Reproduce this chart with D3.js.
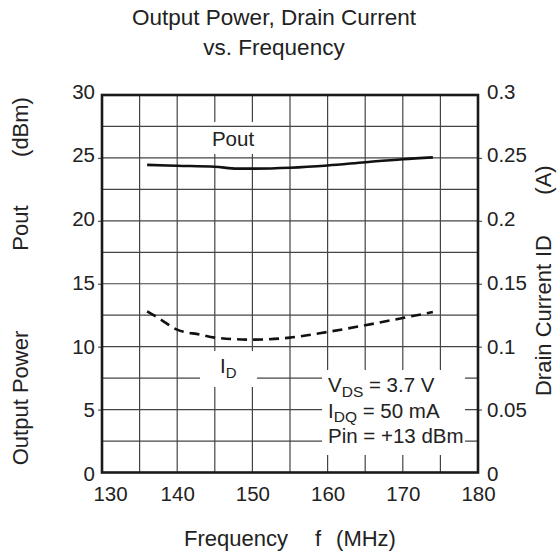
<!DOCTYPE html>
<html><head><meta charset="utf-8">
<script src="https://cdn.jsdelivr.net/npm/d3@7/dist/d3.min.js"></script>
<style>
html,body{margin:0;padding:0;background:#fff;}
text{font-family:"Liberation Sans",Arial,Helvetica,sans-serif;fill:#222;}
</style></head>
<body><svg id="chart" width="557" height="557"></svg>
<script>
// ---- data ----
const freqTicks = [130, 140, 150, 160, 170, 180];
const poutTicks = [0, 5, 10, 15, 20, 25, 30];
const idTicks = [0, 0.05, 0.1, 0.15, 0.2, 0.25, 0.3];
const idTickLabels = ["0", "0.05", "0.1", "0.15", "0.2", "0.25", "0.3"];
const poutFreq = [136, 140, 145, 148, 150, 155, 160, 165, 170, 174];
const poutValues = [24.45, 24.38, 24.3, 24.15, 24.15, 24.22, 24.4, 24.66, 24.9, 25.04];
const idFreq = [136, 137.7, 140, 143, 145, 150, 155, 160, 165, 170, 174];
const idValues = [0.128, 0.122, 0.1135, 0.1096, 0.1072, 0.1056, 0.1072, 0.1117, 0.117, 0.1228, 0.1275];
const titleLines = ["Output Power, Drain Current", "vs. Frequency"];
const xTitleParts = ["Frequency", "f", "(MHz)"];
const yLeftTitleParts = ["Output Power", "Pout", "(dBm)"];
const yRightTitleParts = ["Drain Current", "ID", "(A)"];

// ---- layout ----
const L = 102, R = 478, T = 95, B = 472.5;
const svg = d3.select("#chart");
const x = d3.scaleLinear().domain([130, 180]).range([L, R]);
const y = d3.scaleLinear().domain([0, 30]).range([B, T]);
const yR = d3.scaleLinear().domain([0, 0.3]).range([B, T]);
const yLab = d3.scaleLinear().domain([0, 30]).range([474, 91.7]);
const yLabR = d3.scaleLinear().domain([0, 0.3]).range([474, 91.7]);

const gridCol = "#444";
const vGrid = d3.range(135, 180, 5);
const hGrid = d3.range(2.5, 30, 2.5);
svg.append("g").selectAll("line").data(vGrid).join("line")
  .attr("x1", d => x(d)).attr("x2", d => x(d)).attr("y1", T).attr("y2", B)
  .attr("stroke", gridCol).attr("stroke-width", 1.2);
// Pout label background (cuts vertical lines)
svg.append("rect").attr("x", 207).attr("y", 122).attr("width", 52).attr("height", 32).attr("fill", "#fff");
svg.append("g").selectAll("line").data(hGrid).join("line")
  .attr("x1", L).attr("x2", R).attr("y1", d => y(d)).attr("y2", d => y(d))
  .attr("stroke", gridCol).attr("stroke-width", 1.2);
svg.append("rect").attr("x", 200).attr("y", 351).attr("width", 57).attr("height", 36).attr("fill", "#fff");
svg.append("rect").attr("x", 322).attr("y", 370).attr("width", 143).attr("height", 85).attr("fill", "#fff");

// outward tick marks
svg.append("g").attr("transform", `translate(${L},0)`)
  .call(d3.axisLeft(y).tickValues(poutTicks.slice(1, -1)).tickSize(4).tickFormat(""))
  .call(g => g.select(".domain").remove())
  .call(g => g.selectAll("line").attr("stroke", "#555").attr("stroke-width", 1.2));
svg.append("g").attr("transform", `translate(${R},0)`)
  .call(d3.axisRight(yR).tickValues(idTicks.slice(1, -1)).tickSize(4).tickFormat(""))
  .call(g => g.select(".domain").remove())
  .call(g => g.selectAll("line").attr("stroke", "#555").attr("stroke-width", 1.2));

// frame
svg.append("rect").attr("x", L).attr("y", T).attr("width", R - L).attr("height", B - T)
  .attr("fill", "none").attr("stroke", "#1a1a1a").attr("stroke-width", 2.6);

// curves
const linePout = d3.line().x((d, i) => x(poutFreq[i])).y(d => y(d)).curve(d3.curveMonotoneX);
svg.append("path").attr("d", linePout(poutValues)).attr("fill", "none")
  .attr("stroke", "#111").attr("stroke-width", 2.6);
const lineId = d3.line().x((d, i) => x(idFreq[i])).y(d => yR(d)).curve(d3.curveMonotoneX);
svg.append("path").attr("d", lineId(idValues)).attr("fill", "none")
  .attr("stroke", "#111").attr("stroke-width", 2.6).attr("stroke-dasharray", "10,6");

// axis tick labels
const fs = 20.5;
const axL = svg.append("g").attr("transform", "translate(95,0)")
  .call(d3.axisLeft(yLab).tickValues(poutTicks).tickSize(0).tickPadding(0).tickFormat(d3.format("d")));
axL.select(".domain").remove();
axL.selectAll("text").attr("font-size", fs).attr("font-family", null).attr("fill", "#222");
const axR = svg.append("g").attr("transform", "translate(487,0)")
  .call(d3.axisRight(yLabR).tickValues(idTicks).tickSize(0).tickPadding(0).tickFormat((d, i) => idTickLabels[i]));
axR.select(".domain").remove();
axR.selectAll("text").attr("font-size", fs).attr("font-family", null).attr("fill", "#222");
const axB = svg.append("g").attr("transform", `translate(0,${B})`)
  .call(d3.axisBottom(x).tickValues(freqTicks).tickSize(0).tickPadding(14).tickFormat(d3.format("d")));
axB.select(".domain").remove();
axB.selectAll("text").attr("font-size", fs).attr("font-family", null).attr("fill", "#222")
  .attr("dx", d => d === 130 ? 8 : 0);

// titles
svg.append("g").selectAll("text").data(titleLines).join("text")
  .attr("x", 274).attr("y", (d, i) => 25 + i * 30).attr("text-anchor", "middle")
  .attr("font-size", 22.5).text(d => d);
const xtPos = [236, 318, 366];
svg.append("g").selectAll("text").data(xTitleParts).join("text")
  .attr("x", (d, i) => xtPos[i]).attr("y", 546).attr("text-anchor", "middle").attr("font-size", 22).text(d => d);
const yltPos = [398, 228, 127];
svg.append("g").selectAll("text").data(yLeftTitleParts).join("text")
  .attr("transform", (d, i) => `translate(28,${yltPos[i]}) rotate(-90)`).attr("text-anchor", "middle")
  .attr("font-size", 22).text(d => d);
const yrtPos = [330, 246, 180];
svg.append("g").selectAll("text").data(yRightTitleParts).join("text")
  .attr("transform", (d, i) => `translate(551,${yrtPos[i]}) rotate(-90)`).attr("text-anchor", "middle")
  .attr("font-size", 22).text(d => d);

// in-plot labels
svg.append("text").attr("x", 233).attr("y", 146).attr("text-anchor", "middle").attr("font-size", 20.5).text("Pout");
const idl = svg.append("text").attr("x", 220).attr("y", 373).attr("font-size", 20.5);
idl.append("tspan").text("I");
idl.append("tspan").attr("dy", 5).attr("font-size", 15).text("D");

const ann = svg.append("g").attr("font-size", 20.5);
const a1 = ann.append("text").attr("x", 328).attr("y", 392);
a1.append("tspan").text("V");
a1.append("tspan").attr("dy", 4.5).attr("font-size", 15.5).text("DS");
a1.append("tspan").attr("dy", -4.5).text(" = 3.7 V");
const a2 = ann.append("text").attr("x", 328).attr("y", 417.5);
a2.append("tspan").text("I");
a2.append("tspan").attr("dy", 4.5).attr("font-size", 15.5).text("DQ");
a2.append("tspan").attr("dy", -4.5).text(" = 50 mA");
ann.append("text").attr("x", 328).attr("y", 443).text("Pin = +13 dBm");
</script></body></html>
